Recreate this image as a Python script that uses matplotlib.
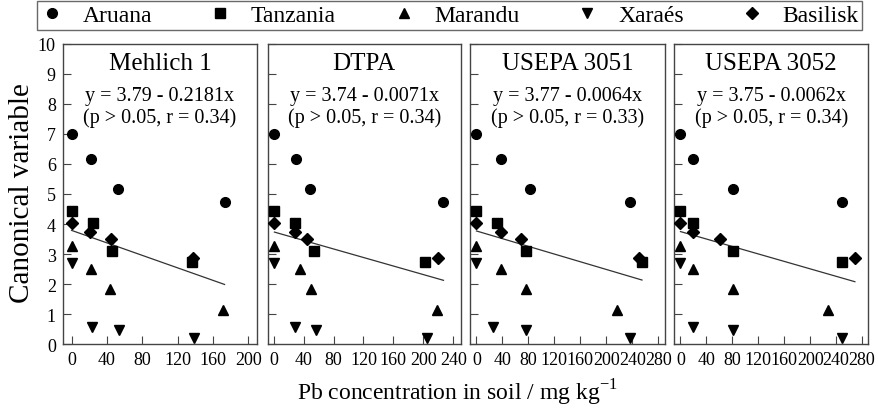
import numpy as np
import matplotlib
matplotlib.use("Agg")
import matplotlib.pyplot as plt
from matplotlib.lines import Line2D

plt.rcParams['font.family'] = 'serif'
plt.rcParams['font.serif'] = ['Liberation Serif', 'DejaVu Serif']
plt.rcParams['mathtext.fontset'] = 'custom'
plt.rcParams['mathtext.rm'] = 'Liberation Serif'

# canonical variable per cultivar (4 soil Pb doses), same in every panel
cultivars = ['Aruana', 'Tanzania', 'Marandu', 'Xaraés', 'Basilisk']
markers = ['o', 's', '^', 'v', 'D']
y_aruana = [7.0, 6.16, 5.17, 4.72]
y_tanzania = [4.43, 4.02, 3.09, 2.73]
y_marandu = [3.28, 2.50, 1.84, 1.14]
y_xaraes = [2.69, 0.59, 0.48, 0.21]
y_basilisk = [4.02, 3.72, 3.50, 2.87]
y_all = [y_aruana, y_tanzania, y_marandu, y_xaraes, y_basilisk]

# Pb in soil by extraction method (per cultivar)
methods = ['Mehlich 1', 'DTPA', 'USEPA 3051', 'USEPA 3052']
x_mehlich = [[0, 22, 52, 173], [0, 24, 46, 136], [0, 22, 43, 171], [0, 23, 54, 139], [0, 21, 45, 137]]
x_dtpa = [[1, 30, 48, 227], [1, 28, 54, 202], [1, 35, 50, 218], [1, 28, 56, 205], [1, 28, 45, 219]]
x_3051 = [[0, 37, 83, 236], [0, 31, 76, 255], [0, 37, 76, 217], [0, 25, 76, 236], [0, 37, 69, 250]]
x_3052 = [[0, 20, 81, 249], [0, 20, 81, 249], [0, 20, 81, 228], [0, 20, 81, 249], [0, 20, 61, 269]]
x_all = [x_mehlich, x_dtpa, x_3051, x_3052]

equations = ['y = 3.79 - 0.2181x', 'y = 3.74 - 0.0071x', 'y = 3.77 - 0.0064x', 'y = 3.75 - 0.0062x']
stats = ['(p > 0.05, r = 0.34)', '(p > 0.05, r = 0.34)', '(p > 0.05, r = 0.33)', '(p > 0.05, r = 0.34)']
fit_a = [3.79, 3.74, 3.77, 3.75]
fit_b = [-0.0104, -0.0071, -0.0064, -0.0062]
x_max = [200, 240, 280, 280]
x_lims = [(-10, 210), (-8, 250), (-10, 290), (-10, 290)]

W, H = 879, 414
fig = plt.figure(figsize=(W / 100, H / 100), dpi=100)

lefts = [62.7, 267.7, 470, 674]
rights = [257.3, 460.7, 664.7, 868.5]
top, bottom = 44.7, 345.3
frame_col = '#444444'

for i in range(4):
    ax = fig.add_axes([lefts[i] / W, 1 - bottom / H, (rights[i] - lefts[i]) / W, (bottom - top) / H])
    for ys, xs, m in zip(y_all, x_all[i], markers):
        ms = 6 if m == 'D' else 7
        ax.plot(xs, ys, m, color='black', markersize=ms, linestyle='none', zorder=3)
    xs_flat = np.concatenate(x_all[i])
    xl = np.array([xs_flat.min(), xs_flat.max()])
    ax.plot(xl, fit_a[i] + fit_b[i] * xl, '-', color='#333333', lw=0.9, zorder=2)

    ax.set_xlim(*x_lims[i])
    ax.set_ylim(0, 10)
    ax.set_xticks(np.arange(0, x_max[i] + 1, 40))
    ax.set_yticks(np.arange(0, 11, 1))
    ax.tick_params(direction='in', length=6, width=0.8, color=frame_col, labelsize=13, pad=5)
    if i > 0:
        ax.tick_params(labelleft=False)
    for s in ax.spines.values():
        s.set_color(frame_col)
        s.set_linewidth(1.0)

    ax.text(0.5, 0.935, methods[i], transform=ax.transAxes, ha='center', va='center', fontsize=18)
    ax.text(0.5, 0.827, equations[i], transform=ax.transAxes, ha='center', va='center', fontsize=14.5)
    ax.text(0.5, 0.757, stats[i], transform=ax.transAxes, ha='center', va='center', fontsize=14.5)

fig.text(22 / W, 1 - 193 / H, 'Canonical variable', rotation=90, ha='center', va='center', fontsize=21)
fig.text(457 / W, 1 - 393 / H, 'Pb concentration in soil / mg kg$^{-1}$', ha='center', va='center', fontsize=17)

handles = [Line2D([], [], marker=m, color='black', linestyle='none', markersize=(6 if m == 'D' else 7))
           for m in markers]
leg = fig.legend(handles, cultivars, loc='lower left', ncol=5, mode='expand',
                 bbox_to_anchor=(37 / W, 1 - 31 / H, 825 / W, 28 / H), borderaxespad=0,
                 fontsize=17, handlelength=1.0, handletextpad=0.8, fancybox=False,
                 frameon=True, borderpad=0.15)
leg.get_frame().set_edgecolor(frame_col)
leg.get_frame().set_linewidth(1.0)

fig.savefig('out.png', dpi=100)
